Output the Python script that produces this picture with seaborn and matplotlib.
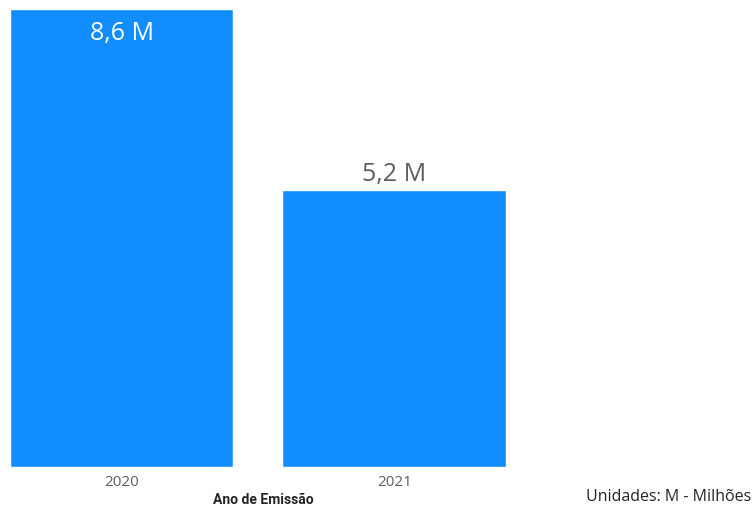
import matplotlib
matplotlib.use("Agg")
import matplotlib.pyplot as plt
import seaborn as sns
import pandas as pd

categories = ["2020", "2021"]
values = [8.6, 5.2]
value_labels = ["8,6 M", "5,2 M"]
x_title = "Ano de Emissão"
note = "Unidades: M - Milhões"

df = pd.DataFrame({"ano": categories, "valor": values})

sns.set_style("white")
plt.rcParams["font.family"] = ["Open Sans", "DejaVu Sans"]

fig = plt.figure(figsize=(7.55, 5.09), dpi=100)
W, H = 755, 509
ax = fig.add_axes([10 / W, (H - 467) / H, (750 - 10) / W, 458 / H])

sns.barplot(data=df, x="ano", y="valor", color="#118DFF", saturation=1,
            width=0.82, ax=ax)

ax.set_xlim(-0.41, -0.41 + 740 / 272.5)
ax.set_ylim(0, 8.6)
for s in ax.spines.values():
    s.set_visible(False)
ax.set_yticks([])
ax.set_ylabel("")
ax.set_xlabel("")
ax.tick_params(axis="x", length=0, pad=6, labelsize=11, labelcolor="#605E5C")

for i, (v, lab) in enumerate(zip(values, value_labels)):
    if i == 0:
        ax.text(i, v - 0.22, lab, ha="center", va="top", fontsize=18, color="white")
    else:
        ax.text(i, v + 0.05, lab, ha="center", va="bottom", fontsize=18, color="#605E5C")

fig.text(263 / W, 1 - 500 / H, x_title, ha="center", va="center", fontsize=10,
         fontweight="bold", color="#252423", family=["Roboto", "DejaVu Sans"])
fig.text(751 / W, 1 - 497 / H, note, ha="right", va="center", fontsize=11.5,
         color="#252423")

fig.savefig("out.png", dpi=100)
